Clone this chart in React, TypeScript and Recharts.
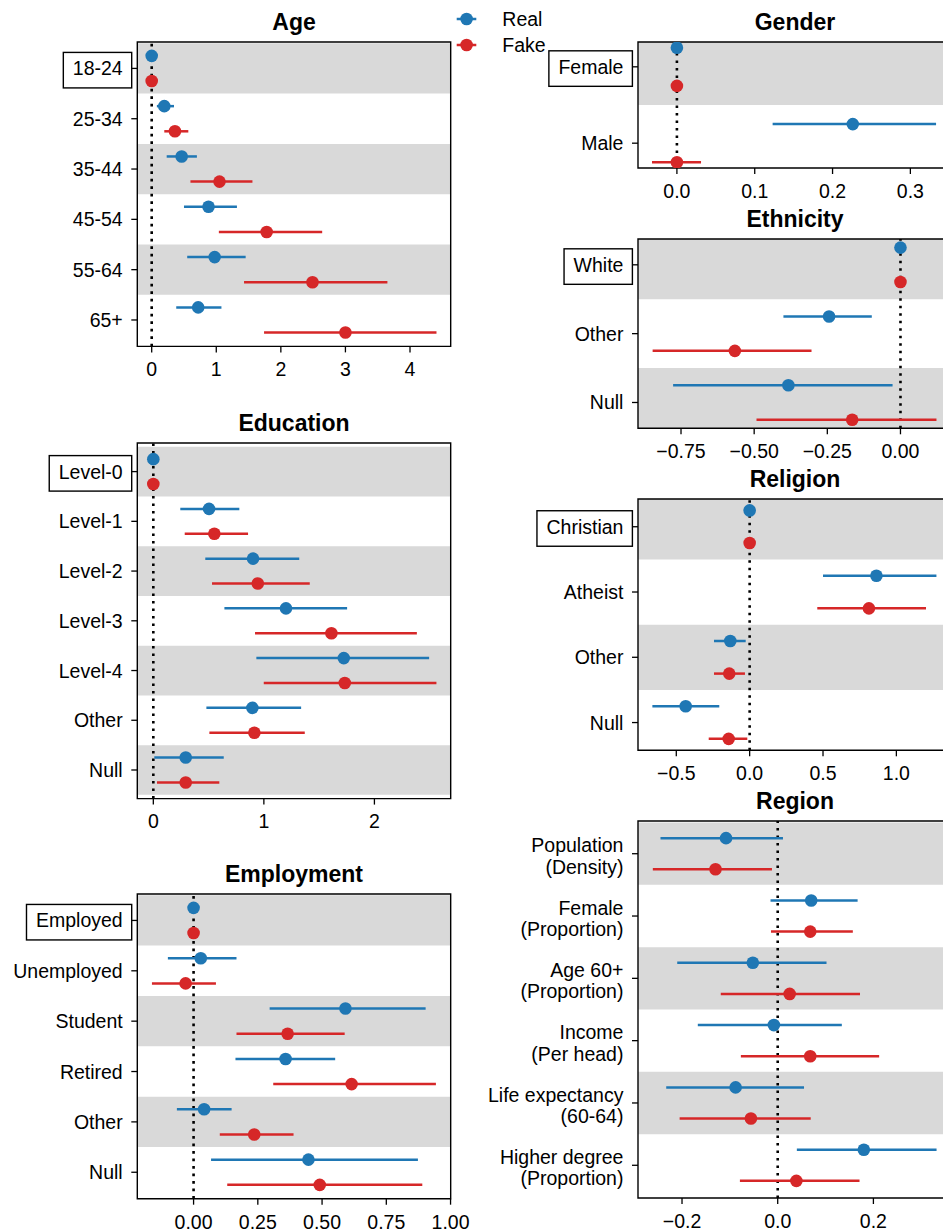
import React from "react";
import {
  ScatterChart,
  Scatter,
  XAxis,
  YAxis,
  ErrorBar,
  ReferenceArea,
  ReferenceLine,
} from "recharts";

const BLUE = "#1f77b4";
const RED = "#d62728";
const BAND = "#d9d9d9";
const FONT = '"Liberation Sans", Arial, Helvetica, sans-serif';
const TICK_FONT = 19.5;

// ---- Age ----
const ageLabels = ["18-24", "25-34", "35-44", "45-54", "55-64", "65+"];
const ageReal = [0, 0.195, 0.464, 0.88, 0.975, 0.72];
const ageRealLow = [0, 0.08, 0.232, 0.5, 0.55, 0.38];
const ageRealHigh = [0, 0.345, 0.7, 1.32, 1.455, 1.08];
const ageFake = [0, 0.36, 1.05, 1.78, 2.49, 3.0];
const ageFakeLow = [0, 0.195, 0.6, 1.04, 1.43, 1.74];
const ageFakeHigh = [0, 0.567, 1.56, 2.64, 3.65, 4.41];
const ageTicks = [0, 1, 2, 3, 4];

// ---- Education ----
const eduLabels = ["Level-0", "Level-1", "Level-2", "Level-3", "Level-4", "Other", "Null"];
const eduReal = [0, 0.504, 0.902, 1.2, 1.723, 0.896, 0.293];
const eduRealLow = [0, 0.244, 0.47, 0.643, 0.932, 0.48, 0.009];
const eduRealHigh = [0, 0.778, 1.32, 1.753, 2.495, 1.337, 0.637];
const eduFake = [0, 0.552, 0.945, 1.611, 1.732, 0.914, 0.293];
const eduFakeLow = [0, 0.284, 0.531, 0.92, 0.999, 0.507, 0.033];
const eduFakeHigh = [0, 0.857, 1.415, 2.384, 2.561, 1.37, 0.597];
const eduTicks = [0, 1, 2];

// ---- Employment ----
const empLabels = ["Employed", "Unemployed", "Student", "Retired", "Other", "Null"];
const empReal = [0, 0.028, 0.591, 0.358, 0.041, 0.447];
const empRealLow = [0, -0.1, 0.296, 0.163, -0.065, 0.068];
const empRealHigh = [0, 0.167, 0.903, 0.551, 0.148, 0.873];
const empFake = [0, -0.031, 0.366, 0.615, 0.236, 0.491];
const empFakeLow = [0, -0.162, 0.167, 0.31, 0.102, 0.131];
const empFakeHigh = [0, 0.087, 0.588, 0.943, 0.389, 0.89];
const empTicks = [0, 0.25, 0.5, 0.75, 1];

// ---- Gender ----
const genderLabels = ["Female", "Male"];
const genderReal = [0, 0.226];
const genderRealLow = [0, 0.123];
const genderRealHigh = [0, 0.333];
const genderFake = [0, 0];
const genderFakeLow = [0, -0.032];
const genderFakeHigh = [0, 0.031];
const genderTicks = [0, 0.1, 0.2, 0.3];

// ---- Ethnicity ----
const ethLabels = ["White", "Other", "Null"];
const ethReal = [0, -0.244, -0.383];
const ethRealLow = [0, -0.4, -0.777];
const ethRealHigh = [0, -0.098, -0.027];
const ethFake = [0, -0.566, -0.165];
const ethFakeLow = [0, -0.847, -0.492];
const ethFakeHigh = [0, -0.304, 0.123];
const ethTicks = [-0.75, -0.5, -0.25, 0];

// ---- Religion ----
const relLabels = ["Christian", "Atheist", "Other", "Null"];
const relReal = [0, 0.864, -0.132, -0.436];
const relRealLow = [0, 0.5, -0.243, -0.663];
const relRealHigh = [0, 1.273, -0.027, -0.207];
const relFake = [0, 0.813, -0.139, -0.143];
const relFakeLow = [0, 0.461, -0.243, -0.279];
const relFakeHigh = [0, 1.202, -0.032, -0.016];
const relTicks = [-0.5, 0, 0.5, 1];

// ---- Region ----
const regLabels = [
  "Population\n(Density)",
  "Female\n(Proportion)",
  "Age 60+\n(Proportion)",
  "Income\n(Per head)",
  "Life expectancy\n(60-64)",
  "Higher degree\n(Proportion)",
];
const regReal = [-0.108, 0.07, -0.052, -0.008, -0.088, 0.18];
const regRealLow = [-0.245, -0.015, -0.21, -0.167, -0.233, 0.04];
const regRealHigh = [0.011, 0.167, 0.102, 0.134, 0.055, 0.332];
const regFake = [-0.13, 0.068, 0.025, 0.068, -0.056, 0.039];
const regFakeLow = [-0.261, -0.014, -0.119, -0.077, -0.205, -0.079];
const regFakeHigh = [-0.012, 0.157, 0.172, 0.212, 0.069, 0.171];
const regTicks = [-0.2, 0, 0.2];

let measureCtx: CanvasRenderingContext2D | null = null;
function textWidth(s: string) {
  if (!measureCtx) measureCtx = document.createElement("canvas").getContext("2d");
  if (!measureCtx) return s.length * 10;
  measureCtx.font = `${TICK_FONT}px "Liberation Sans", Arial, sans-serif`;
  return measureCtx.measureText(s).width;
}

const fmt = (d: number) => (v: number) => v.toFixed(d).replace("-", "\u2212");

function makeTick(labels: string[], boxed: boolean) {
  return (p: any) => {
    const { x, y, payload } = p;
    const lines = labels[payload.value].split("\n");
    if (lines.length > 1) {
      return (
        <text x={x} y={y} textAnchor="end" fontSize={TICK_FONT} fontFamily={FONT} fill="#000">
          <tspan x={x} y={y - 1.3}>{lines[0]}</tspan>
          <tspan x={x} y={y + 20}>{lines[1]}</tspan>
        </text>
      );
    }
    const w = textWidth(lines[0]);
    return (
      <g>
        {boxed && payload.value === 0 && (
          <rect x={x - w - 9.5} y={y - 16} width={w + 18.5} height={35.5} fill="#fff" stroke="#000" strokeWidth={1.4} />
        )}
        <text x={x} y={y + 7} textAnchor="end" fontSize={TICK_FONT} fontFamily={FONT} fill="#000">
          {lines[0]}
        </text>
      </g>
    );
  };
}

const dot = (color: string) => (p: any) => <circle cx={p.cx} cy={p.cy} r={6.3} fill={color} />;

type PanelProps = {
  title: string;
  labels: string[];
  real: number[];
  realLow: number[];
  realHigh: number[];
  fake: number[];
  fakeLow: number[];
  fakeHigh: number[];
  xDomain: [number, number];
  xTicks: number[];
  decimals: number;
  plotX: number;
  plotY: number;
  plotW: number;
  plotH: number;
  yAxisWidth: number;
  boxed: boolean;
};

function Panel(props: PanelProps) {
  const { title, labels, real, realLow, realHigh, fake, fakeLow, fakeHigh, xDomain, xTicks, decimals, plotX, plotY, plotW, plotH, yAxisWidth, boxed } = props;
  const n = labels.length;
  const yDomain: [number, number] = [-0.25 - 0.05 * (n - 0.5), n - 0.75 + 0.05 * (n - 0.5)];
  const realData = real.map((v, i) => ({ x: v, y: i - 0.25, err: [v - realLow[i], realHigh[i] - v] }));
  const fakeData = fake.map((v, i) => ({ x: v, y: i + 0.25, err: [v - fakeLow[i], fakeHigh[i] - v] }));
  const marginTop = 5;
  const marginRight = 25;
  const axisH = 45;
  const width = yAxisWidth + plotW + marginRight;
  const height = marginTop + plotH + axisH;

  return (
    <>
      <div
        style={{
          position: "absolute",
          left: plotX,
          top: plotY - 31,
          width: plotW,
          textAlign: "center",
          fontWeight: "bold",
          fontSize: 23,
          lineHeight: "23px",
          fontFamily: FONT,
          color: "#000",
        }}
      >
        {title}
      </div>
      <div style={{ position: "absolute", left: plotX - yAxisWidth, top: plotY - marginTop }}>
        <ScatterChart width={width} height={height} margin={{ top: marginTop, right: marginRight, bottom: 0, left: 0 }}>
          {labels.map((_, i) =>
            i % 2 === 0 ? (
              <ReferenceArea
                key={`band-${i}`}
                x1={xDomain[0]}
                x2={xDomain[1]}
                y1={Math.max(i - 0.5, yDomain[0])}
                y2={Math.min(i + 0.5, yDomain[1])}
                fill={BAND}
                fillOpacity={1}
                stroke="none"
              />
            ) : null
          )}
          <XAxis
            type="number"
            dataKey="x"
            domain={xDomain}
            allowDataOverflow
            ticks={xTicks}
            interval={0}
            tickFormatter={fmt(decimals)}
            axisLine={false}
            tickLine={{ stroke: "#000", strokeWidth: 1.3 }}
            tickSize={6}
            tickMargin={10}
            tick={{ fill: "#000", fontSize: TICK_FONT, fontFamily: FONT }}
            height={axisH}
          />
          <YAxis
            type="number"
            dataKey="y"
            domain={yDomain}
            allowDataOverflow
            reversed
            ticks={labels.map((_, i) => i)}
            interval={0}
            axisLine={false}
            tickLine={{ stroke: "#000", strokeWidth: 1.3 }}
            tickSize={6}
            tickMargin={8.6}
            tick={makeTick(labels, boxed)}
            width={yAxisWidth}
          />
          <ReferenceLine x={0} stroke="#000" strokeWidth={2.6} strokeDasharray="2.6 4.9" />
          <Scatter data={realData} fill={BLUE} shape={dot(BLUE)} isAnimationActive={false}>
            <ErrorBar dataKey="err" direction="x" width={0} stroke={BLUE} strokeWidth={2.5} />
          </Scatter>
          <Scatter data={fakeData} fill={RED} shape={dot(RED)} isAnimationActive={false}>
            <ErrorBar dataKey="err" direction="x" width={0} stroke={RED} strokeWidth={2.5} />
          </Scatter>
          <ReferenceArea
            x1={xDomain[0]}
            x2={xDomain[1]}
            y1={yDomain[0]}
            y2={yDomain[1]}
            fill="none"
            stroke="#000"
            strokeWidth={1.4}
          />
        </ScatterChart>
      </div>
    </>
  );
}

function LegendBox() {
  const rows = [
    { name: "Real", color: BLUE, y: 19 },
    { name: "Fake", color: RED, y: 45 },
  ];
  return (
    <svg style={{ position: "absolute", left: 440, top: 0 }} width={120} height={60}>
      {rows.map((r) => (
        <g key={r.name}>
          <line x1={16.7} x2={36.3} y1={r.y} y2={r.y} stroke={r.color} strokeWidth={2.5} />
          <circle cx={26.6} cy={r.y} r={6.3} fill={r.color} />
          <text x={62.3} y={r.y + 6.8} fontSize={TICK_FONT} fontFamily={FONT} fill="#000">
            {r.name}
          </text>
        </g>
      ))}
    </svg>
  );
}

const LX = 137.3;
const RX = 638.3;
const PW = 313.4;

export default function App() {
  return (
    <div
      style={{
        position: "absolute",
        left: 0,
        top: 0,
        width: 943,
        height: 1229,
        overflow: "hidden",
        background: "#fff",
      }}
    >
      <Panel title="Age" labels={ageLabels} real={ageReal} realLow={ageRealLow} realHigh={ageRealHigh}
        fake={ageFake} fakeLow={ageFakeLow} fakeHigh={ageFakeHigh} xDomain={[-0.223, 4.63]} xTicks={ageTicks}
        decimals={0} plotX={LX} plotY={42.3} plotW={PW} plotH={304.4} yAxisWidth={LX} boxed />
      <Panel title="Education" labels={eduLabels} real={eduReal} realLow={eduRealLow} realHigh={eduRealHigh}
        fake={eduFake} fakeLow={eduFakeLow} fakeHigh={eduFakeHigh} xDomain={[-0.145, 2.69]} xTicks={eduTicks}
        decimals={0} plotX={LX} plotY={442.7} plotW={PW} plotH={355.6} yAxisWidth={LX} boxed />
      <Panel title="Employment" labels={empLabels} real={empReal} realLow={empRealLow} realHigh={empRealHigh}
        fake={empFake} fakeLow={empFakeLow} fakeHigh={empFakeHigh} xDomain={[-0.219, 1.0005]} xTicks={empTicks}
        decimals={2} plotX={LX} plotY={894.3} plotW={PW} plotH={304.7} yAxisWidth={LX} boxed />
      <Panel title="Gender" labels={genderLabels} real={genderReal} realLow={genderRealLow} realHigh={genderRealHigh}
        fake={genderFake} fakeLow={genderFakeLow} fakeHigh={genderFakeHigh} xDomain={[-0.05, 0.3527]} xTicks={genderTicks}
        decimals={1} plotX={RX} plotY={42.3} plotW={PW} plotH={126} yAxisWidth={170} boxed />
      <Panel title="Ethnicity" labels={ethLabels} real={ethReal} realLow={ethRealLow} realHigh={ethRealHigh}
        fake={ethFake} fakeLow={ethFakeLow} fakeHigh={ethFakeHigh} xDomain={[-0.897, 0.174]} xTicks={ethTicks}
        decimals={2} plotX={RX} plotY={238.7} plotW={PW} plotH={189.3} yAxisWidth={170} boxed />
      <Panel title="Religion" labels={relLabels} real={relReal} realLow={relRealLow} realHigh={relRealHigh}
        fake={relFake} fakeLow={relFakeLow} fakeHigh={relFakeHigh} xDomain={[-0.761, 1.375]} xTicks={relTicks}
        decimals={1} plotX={RX} plotY={499} plotW={PW} plotH={251.3} yAxisWidth={170} boxed />
      <Panel title="Region" labels={regLabels} real={regReal} realLow={regRealLow} realHigh={regRealHigh}
        fake={regFake} fakeLow={regFakeLow} fakeHigh={regFakeHigh} xDomain={[-0.292, 0.363]} xTicks={regTicks}
        decimals={1} plotX={RX} plotY={821.3} plotW={PW} plotH={377} yAxisWidth={170} boxed={false} />
      <LegendBox />
    </div>
  );
}
